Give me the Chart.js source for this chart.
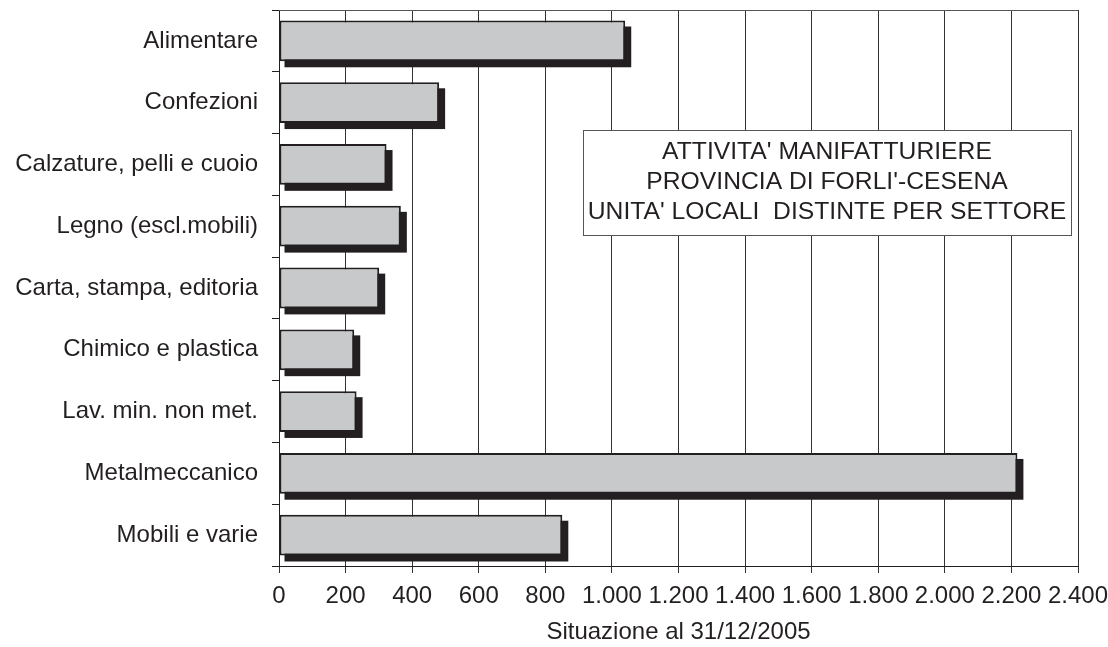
<!DOCTYPE html>
<html>
<head>
<meta charset="utf-8">
<script src="https://cdn.jsdelivr.net/npm/chart.js@4"></script>
<style>
  html, body { margin: 0; padding: 0; background: #ffffff; }
  #wrap { width: 1108px; height: 647px; position: relative; }
</style>
</head>
<body>
<div id="wrap"><canvas id="settori-chart"></canvas></div>
<script>
// ===== DATA =====
const categories = [
  "Alimentare",
  "Confezioni",
  "Calzature, pelli e cuoio",
  "Legno (escl.mobili)",
  "Carta, stampa, editoria",
  "Chimico e plastica",
  "Lav. min. non met.",
  "Metalmeccanico",
  "Mobili e varie",
];
const unitaLocali = [1040, 481, 323, 366, 301, 226, 233, 2218, 851];
const axisMin = 0;
const axisMax = 2400;
const axisStep = 200;
const axisTitle = "Situazione al 31/12/2005";
const boxLines = [
  "ATTIVITA' MANIFATTURIERE",
  "PROVINCIA DI FORLI'-CESENA",
  "UNITA' LOCALI  DISTINTE PER SETTORE",
];

// ===== HELPERS =====
const INK = "#231f20";
const FONT = "'Liberation Sans', Arial, Helvetica, sans-serif";
const FONT_SIZE = 24;

function formatIt(value) {
  // 1000 -> 1.000
  return String(value).replace(/\B(?=(\d{3})+(?!\d))/g, ".");
}

// solid shadow under each bar, offset down-right
const barShadow = {
  id: "barShadow",
  beforeDatasetDraw(chart, args) {
    const ctx = chart.ctx;
    const meta = chart.getDatasetMeta(args.index);
    ctx.save();
    ctx.fillStyle = INK;
    meta.data.forEach((bar) => {
      const p = bar.getProps(["x", "y", "base", "height"], true);
      ctx.fillRect(p.base + 5, p.y - p.height / 2 + 6, p.x - p.base + 1, p.height);
    });
    ctx.restore();
  },
};

// top frame line + title box
const frameAndBox = {
  id: "frameAndBox",
  beforeDatasetsDraw(chart) {
    const { ctx, chartArea } = chart;
    ctx.save();
    ctx.strokeStyle = "#555555";
    ctx.lineWidth = 1;
    ctx.beginPath();
    ctx.moveTo(chartArea.left, chartArea.top + 0.5);
    ctx.lineTo(chartArea.right, chartArea.top + 0.5);
    ctx.stroke();
    ctx.restore();
  },
  afterDatasetsDraw(chart) {
    const { ctx, chartArea } = chart;
    const x = chartArea.left + 304;
    const y = chartArea.top + 120;
    const w = 488;
    const h = 105;
    ctx.save();
    ctx.fillStyle = "#ffffff";
    ctx.fillRect(x, y, w, h);
    ctx.strokeStyle = "#555555";
    ctx.lineWidth = 1;
    ctx.strokeRect(x + 0.5, y + 0.5, w, h);
    ctx.fillStyle = INK;
    ctx.font = "24.7px " + FONT;
    ctx.textAlign = "center";
    ctx.textBaseline = "middle";
    boxLines.forEach((line, i) => {
      ctx.fillText(line, x + w / 2, y + 22 + i * 30);
    });
    ctx.restore();
  },
};

// ===== CHART =====
new Chart(document.getElementById("settori-chart").getContext("2d"), {
  type: "bar",
  data: {
    labels: categories,
    datasets: [
      {
        data: unitaLocali,
        backgroundColor: "#c8c9cb",
        borderColor: INK,
        borderWidth: 2,
        borderSkipped: false,
        categoryPercentage: 1,
        barPercentage: 0.66,
      },
    ],
  },
  options: {
    indexAxis: "y",
    responsive: true,
    maintainAspectRatio: false,
    animation: false,
    layout: { padding: { top: 10, right: 30, left: 0, bottom: 0 } },
    plugins: {
      legend: { display: false },
      tooltip: { enabled: false },
    },
    scales: {
      x: {
        min: axisMin,
        max: axisMax,
        ticks: {
          stepSize: axisStep,
          color: INK,
          padding: 9,
          font: { family: FONT, size: FONT_SIZE },
          callback: (value) => formatIt(value),
        },
        grid: {
          color: "#333333",
          lineWidth: 1,
          tickLength: 7,
          drawTicks: true,
        },
        border: { color: INK, width: 1 },
        title: {
          display: true,
          text: axisTitle,
          color: INK,
          font: { family: FONT, size: FONT_SIZE },
          padding: { top: 0, bottom: 0 },
        },
        afterFit(scale) {
          scale.height = 81;
          scale.paddingLeft = 0;
          scale.paddingRight = 0;
        },
      },
      y: {
        ticks: {
          color: INK,
          padding: 14,
          font: { family: FONT, size: FONT_SIZE },
        },
        grid: {
          offset: true,
          drawOnChartArea: false,
          tickLength: 7,
          color: INK,
        },
        border: { color: INK, width: 1 },
        afterFit(scale) {
          scale.width = 279;
          scale.paddingTop = 0;
          scale.paddingBottom = 0;
        },
      },
    },
  },
  plugins: [barShadow, frameAndBox],
});
</script>
</body>
</html>
